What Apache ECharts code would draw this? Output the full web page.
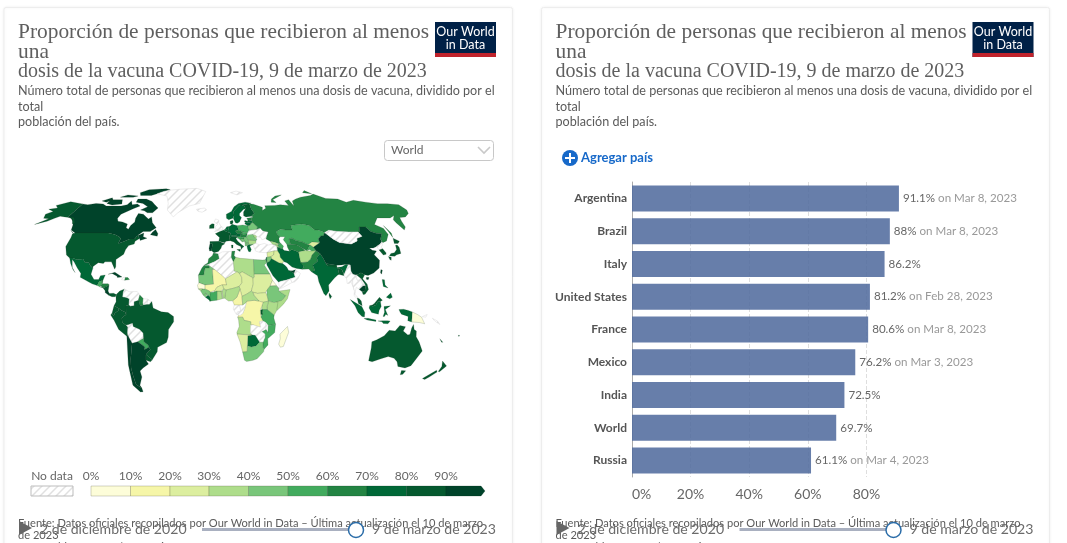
<!DOCTYPE html>
<html>
<head>
<meta charset="utf-8">
<style>html,body{margin:0;padding:0;background:#fff;overflow:hidden}#chart{width:1067px;height:543px}</style>
<script src="https://cdn.jsdelivr.net/npm/echarts@6/dist/echarts.min.js"></script>
</head>
<body>
<div id="chart"></div>
<script>
// Bar panel
const barCountries = ['Argentina', 'Brazil', 'Italy', 'United States', 'France', 'Mexico', 'India', 'World', 'Russia'];
const barValues = [91.1, 88, 86.2, 81.2, 80.6, 76.2, 72.5, 69.7, 61.1];
const barDates = ['Mar 8, 2023', 'Mar 8, 2023', '', 'Feb 28, 2023', 'Mar 8, 2023', 'Mar 3, 2023', '', '', 'Mar 4, 2023'];

// Colour scale
const binLabels = ['0%', '10%', '20%', '30%', '40%', '50%', '60%', '70%', '80%', '90%'];
const binColors = ['#fdfdd9', '#f6f6a8', '#dcee9f', '#aedd8b', '#79c67a', '#42ab5e', '#238443', '#006837', '#05592f', '#00432a'];

// Share of people with at least one dose, by region; countries left out have no data
const americasNames = ['Canada', 'United States', 'Mexico', 'Guatemala', 'Belize', 'Honduras', 'El Salvador', 'Nicaragua', 'Costa Rica', 'Panama', 'Cuba', 'Dominican Republic', 'Colombia', 'Guyana', 'Ecuador', 'Peru', 'Brazil', 'Paraguay', 'Chile', 'Argentina', 'Uruguay'];
const americasValues = [91, 81.2, 76.2, 50, 62, 65, 72, 88, 92, 80, 93, 66, 84, 65, 88, 86, 88, 55, 92, 91.1, 85];
const europeNames = ['Ireland', 'Portugal', 'Spain', 'France', 'Belgium', 'Netherlands', 'Germany', 'Denmark', 'Switzerland', 'Austria', 'Italy', 'Poland', 'Czechia', 'Slovakia', 'Hungary', 'Croatia', 'Bosnia', 'Serbia', 'Albania', 'North Macedonia', 'Greece', 'Bulgaria', 'Romania', 'Moldova', 'Belarus', 'Lithuania', 'Latvia', 'Estonia', 'Norway', 'Sweden', 'Finland', 'Russia'];
const europeValues = [82, 92, 87, 80.6, 79, 72, 78, 82, 70, 74, 86.2, 59, 65, 52, 64, 56, 45, 49, 47, 41, 75, 31, 42, 37, 45, 71, 70, 64, 78, 75, 82, 61.1];
const asiaNames = ['Georgia', 'Armenia', 'Azerbaijan', 'Syria', 'Iraq', 'Jordan', 'Israel', 'Saudi Arabia', 'United Arab Emirates', 'Iran', 'Kazakhstan', 'Uzbekistan', 'Turkmenistan', 'Kyrgyzstan', 'Tajikistan', 'Afghanistan', 'Pakistan', 'India', 'Nepal', 'Bangladesh', 'Sri Lanka', 'China', 'South Korea', 'Japan', 'Cambodia', 'Vietnam', 'Malaysia', 'Indonesia', 'Philippines', 'Papua New Guinea', 'Australia', 'New Zealand', 'New Caledonia', 'Fiji'];
const asiaValues = [36, 38, 52, 24, 22, 47, 72, 74, 96, 76, 55, 68, 66, 27, 55, 35, 68, 72.5, 80, 85, 80, 92, 87, 84, 93, 88, 86, 75, 72, 4, 86, 84, 80, 81];
const africaNames = ['Morocco', 'Western Sahara', 'Tunisia', 'Libya', 'Egypt', 'Mauritania', 'Mali', 'Niger', 'Chad', 'Sudan', 'South Sudan', 'Eritrea', 'Ethiopia', 'Somalia', 'Kenya', 'Uganda', 'Tanzania', 'Rwanda', 'Democratic Republic of Congo', 'Cameroon', 'Central African Republic', 'Nigeria', 'Benin', 'Togo', 'Ghana', 'Burkina Faso', "Cote d'Ivoire", 'Liberia', 'Sierra Leone', 'Guinea', 'Senegal', 'Guinea-Bissau', 'Angola', 'Mozambique', 'Botswana', 'Namibia', 'South Africa', 'Madagascar'];
const africaValues = [63, 63, 62, 33, 45, 45, 14, 22, 23, 22, 24, 1, 42, 38, 34, 36, 55, 80, 12, 13, 35, 33, 36, 27, 35, 25, 52, 72, 45, 47, 8, 32, 35, 55, 73, 23, 44, 8];

// Simplified country outlines as "lon,lat" rings, used to register the base map
const outlines = {
  'Canada': ['-141,69.6 -135,69 -128,70 -120,69.5 -115,68 -108,68 -100,68 -95,69 -94,72 -90,69 -85,69.5 -81,68 -86,66 -94,62 -94.5,59 -92.5,57 -88,56.5 -82.5,55 -82,52.5 -79.5,51.5 -79,54 -77,56.5 -78,59 -78,62.5 -73,62 -70,60.5 -66,58.5 -64,60 -61,56 -56,52.5 -60,50 -66,50 -70,47 -65,49 -64.5,46.5 -61,45.5 -66,44 -67,45.2 -69.5,47.4 -71,45 -75,45 -79,43.3 -83,42 -82.5,45.3 -84.5,46.5 -89,48 -95,49 -123,49 -128,51 -130,54.5 -133,57 -137,59 -141,60',
    '-80,73.5 -72,71.5 -67,69 -62,66.5 -65,63 -70,63 -74,64.5 -78,65 -73,67.5 -80,70 -88,71 -89,73.5',
    '-117,73 -105,73 -101,69.5 -110,68.7 -117,70', '-90,76.5 -78,76.5 -62,82 -68,83 -88,82 -94,79', '-125,72 -118,74.5 -115,73 -119,71',
    '-110,75 -96,75 -92,76 -105,77', '-59,47.7 -53,46.8 -53,48.5 -56,51.3 -58,49.5', '-128,50.7 -123.5,48.4 -125,49'],
  'United States': ['-124.7,48.4 -123,49 -95,49 -89,48 -84.5,46.5 -82.5,45.3 -83,42 -79,43.3 -75,45 -71,45 -69.5,47.4 -67,45.2 -70,43.5 -70,41.7 -74,40.6 -75.5,38 -76,35 -81,31.5 -80,26.8 -80.5,25.2 -82.5,28 -84,30 -89,30 -90,29 -94,29.5 -97.3,27 -97.2,25.9 -99.5,27.5 -101.5,29.8 -104,29.4 -106.5,31.8 -111,31.3 -114.8,32.5 -117.1,32.5 -120.5,34.5 -124,40 -124,46',
    '-141,69.6 -156.5,71.3 -166,68.5 -161,66.5 -168,65.6 -161,64 -165,62 -162,59 -157,58.7 -164,54.7 -156,57 -152,59 -149,60.5 -144,60 -139,59.5 -135,58.5 -131,55 -130,56 -135,59.5 -141,60'],
  'Mexico': ['-117.1,32.5 -114.8,32.5 -111,31.3 -106.5,31.8 -104,29.4 -101.5,29.8 -99.5,27.5 -97.2,25.9 -97.8,22 -95,18.5 -91.5,18.5 -90.5,21 -87,21.5 -88.2,18 -91,17.2 -92,14.6 -96,15.7 -105.5,20 -105.5,22.5 -109,26 -112.7,30 -114.7,31.5 -113,26.5 -110,23 -112,25 -115,29'],
  'Guatemala': ['-92,14.6 -91,17.2 -89.2,17.8 -88.3,15.8 -89.4,14.4 -90,13.8'],
  'Belize': ['-89.2,17.8 -88.2,18.4 -88.3,16'],
  'Honduras': ['-89.4,14.4 -88.3,15.8 -84,15.8 -83.2,15 -85,14 -87.5,13'],
  'El Salvador': ['-90,13.8 -89.4,14.4 -87.5,13.4 -88,13.2'],
  'Nicaragua': ['-87.5,13 -85,14 -83.2,15 -83.6,11 -85.7,11.1'],
  'Costa Rica': ['-85.7,11.1 -83.6,11 -82.6,9.5 -83,8.3 -85.7,10'],
  'Panama': ['-83,8.3 -82.6,9.5 -79.5,9.6 -77.4,8.7 -78,7.3 -80.5,7.3'],
  'Cuba': ['-84.9,21.9 -80,23.2 -74.2,20.2 -77.7,19.9 -78,20.7 -82,22.5'],
  'Haiti': ['-74.4,18.5 -72,18 -71.7,19.9 -73.4,19.9'],
  'Dominican Republic': ['-71.7,19.9 -72,18 -68.4,18.5 -69.8,19.8'],
  'Colombia': ['-77.4,8.7 -75,11 -71.5,12.4 -72.3,10 -72.5,7.3 -70,7 -67.5,6 -67.8,2 -70,1.5 -69.5,-4.2 -70.5,-2.8 -73.5,-1.5 -75.3,-0.1 -78.8,1.4 -77.3,4 -77.5,7'],
  'Venezuela': ['-72.3,10 -71.5,12.4 -68,10.6 -62,10.7 -60,8.5 -61,5 -60.7,5 -64,4 -64,1.5 -67,1.2 -67.8,2 -67.5,6 -70,7 -72.5,7.3'],
  'Guyana': ['-60,8.5 -57.2,6 -57.5,3.3 -57,1.9 -59.5,1.5 -60.7,5 -61,5'],
  'Suriname': ['-57.2,6 -54,5.8 -54.5,2.3 -57,1.9 -57.5,3.3'],
  'French Guiana': ['-54,5.8 -51.7,4.3 -52.8,2.3 -54.5,2.3'],
  'Ecuador': ['-80.3,-3.4 -78.8,1.4 -75.3,-0.1 -75.5,-1.6 -78.3,-3.4 -79,-5 -80,-4.3'],
  'Peru': ['-81.3,-4.5 -80.3,-3.4 -80,-4.3 -79,-5 -78.3,-3.4 -75.5,-1.6 -75.3,-0.1 -73.5,-1.5 -70.5,-2.8 -69.9,-4.3 -73.2,-6.5 -73,-9.5 -70.5,-11 -69,-12.5 -69.5,-16 -69.5,-17.5 -70.4,-18.3 -76,-14 -79,-8'],
  'Bolivia': ['-69,-10.9 -65.4,-9.8 -65,-12 -60.5,-13.8 -58,-16.3 -58,-19.7 -62.6,-22 -67,-22.9 -69,-19 -69.5,-17.5 -69.5,-16 -69,-12.5'],
  'Paraguay': ['-62.6,-22 -58,-19.7 -57.8,-22.1 -55,-24 -54.6,-25.6 -58.5,-27.2 -57.7,-25.3'],
  'Chile': ['-70.4,-18.3 -69.5,-17.5 -69,-19 -67,-22.9 -70,-33 -71.5,-39 -71.8,-44 -72,-50 -68.4,-52.3 -68.6,-54.9 -71,-55 -75,-50.5 -73.5,-42 -73,-37 -71.5,-30'],
  'Argentina': ['-67,-22.9 -62.6,-22 -57.7,-25.3 -58.5,-27.2 -54.6,-25.6 -53.7,-27 -57.6,-30.2 -58.4,-34 -57,-36.5 -62,-39 -65,-41 -65,-45 -69,-50.5 -68.4,-52.3 -72,-50 -71.8,-44 -71.5,-39 -70,-33'],
  'Uruguay': ['-58.4,-34 -57.6,-30.2 -53.4,-33.7 -55,-35'],
  'Brazil': ['-69.9,-4.3 -69.5,-4.2 -70,1.5 -67.8,2 -67,1.2 -64,1.5 -64,4 -60.7,5 -59.5,1.5 -57,1.9 -54.5,2.3 -52.8,2.3 -51,4.3 -50,0 -44,-2.5 -39,-3 -35,-5.5 -35,-9 -39,-14 -39.5,-19 -41,-22.5 -48,-25.5 -48.7,-28.5 -53.4,-33.7 -57.6,-30.2 -53.7,-27 -54.6,-25.6 -55,-24 -57.8,-22.1 -58,-19.7 -58,-16.3 -60.5,-13.8 -65,-12 -65.4,-9.8 -69,-10.9 -70.5,-11 -73,-9.5 -73.2,-6.5'],
  'Greenland': ['-73,78 -60,76 -54,70 -52,65 -44,60 -41,63 -32,68 -22,70 -20,75 -18,80 -30,83.5 -50,82.5 -62,81.5 -68,80'],
  'Iceland': ['-24,65.5 -22,64 -18,63.4 -14,65 -16,66.5 -21,66'],
  'United Kingdom': ['-5.5,50 1.3,51.2 1.7,52.7 0,53.5 -2,56 -2,57.7 -5,58.6 -6,56.5 -3,54.8 -4.8,53.3 -5,51.7 -3,51.4'],
  'Ireland': ['-10,52 -6,52.2 -6,55 -8,55.2 -10,54'],
  'Portugal': ['-9,37 -7.4,37.2 -6.9,41.9 -8.9,41.9 -9.5,38.8'],
  'Spain': ['-7.4,37.2 -5.5,36 -2,36.8 0,38.8 0.7,40.6 3.2,41.9 -1.8,43.4 -9,43.3 -8.9,41.9 -6.9,41.9'],
  'France': ['-1.8,43.4 3.2,42.5 4,43.5 7.5,43.8 6.8,46 8,49 6,49.5 4.2,50 2.5,51 -1.5,49.7 -4.8,48.5 -1.2,46'],
  'Belgium': ['2.5,51 4.2,50 6,49.5 6,50.8 3.5,51.4'],
  'Netherlands': ['3.5,51.4 6,50.8 7.1,53.3 5,53.2'],
  'Germany': ['6,49.5 8,49 7.6,47.6 13,47.5 13.8,48.7 12.2,50.3 15,51 14.2,53.9 9.8,54.8 8.6,54 7.1,53.3 6,50.8'],
  'Denmark': ['8.2,55 9.8,54.8 10.9,56.4 10.5,57.7 8.2,57'],
  'Switzerland': ['6.8,46 10.4,46.8 9.6,47.5 7.6,47.6'],
  'Austria': ['9.6,47.5 10.4,46.8 13.7,46.5 16.3,46.5 16.5,47.7 17,48.7 13.8,48.7 13,47.5'],
  'Italy': ['6.8,46 7.5,43.8 10.5,43 12.5,41.3 15.8,40 16,38 16.8,39 18.4,40 16,41.6 13.5,43.6 12.3,45.3 13.7,46.5 10.4,46.8', '12.5,38 15.5,38.2 15,36.7', '8.3,41 9.7,41 9.5,39 8.5,39'],
  'Poland': ['14.2,53.9 15,51 18.8,49.5 22.6,49.1 24,50.8 23.5,53.9 19,54.4'],
  'Czechia': ['12.2,50.3 13.8,48.7 17,48.7 18.8,49.5 15,51'],
  'Slovakia': ['17,48.7 18.8,47.8 22.1,48.4 22.6,49.1 18.8,49.5'],
  'Hungary': ['16.5,47.7 16.3,46.5 18.8,45.9 21,46.2 22.1,48.4 18.8,47.8 17,48.7'],
  'Croatia': ['13.7,46.5 16.3,46.5 18.8,45.9 19,45 15.8,45 17.5,43 14.5,45.2 13.6,45.5'],
  'Bosnia': ['15.8,45 19,45 19.2,43.5 17.5,43'],
  'Serbia': ['19,45 18.8,45.9 21,46.2 22.5,44.4 22.4,42.3 20.5,42.5 19.2,43.5'],
  'Albania': ['19.2,43.5 20.5,42.5 20.8,40.5 19.4,40.4 19.4,42'],
  'North Macedonia': ['20.5,42.5 22.4,42.3 22.8,41.3 20.8,41'],
  'Greece': ['20.8,40.5 22.8,41.3 26.2,41.5 23,40.3 24,38 23,36.5 21.7,36.8 21,38.5'],
  'Bulgaria': ['22.5,44.4 28.6,43.8 28,42 26.2,41.5 22.8,41.3 22.4,42.3'],
  'Romania': ['21,46.2 22.9,48 26.6,48.2 28.2,45.5 29.6,45 28.6,43.8 22.5,44.4'],
  'Moldova': ['26.6,48.2 29.1,47.5 30,46.4 28.2,45.5'],
  'Ukraine': ['22.1,48.4 22.9,48 26.6,48.2 29.1,47.5 30,46.4 33,46 33.5,44.4 36.5,45.3 38.2,47.1 40,49.6 35.5,50.4 33.8,52.3 30.8,51.4 24,50.8 22.6,49.1'],
  'Belarus': ['24,50.8 30.8,51.4 31.7,53 28.2,56.1 26.6,55.7 25.5,54.3 23.5,53.9'],
  'Lithuania': ['21,55.3 23.5,53.9 25.5,54.3 26.6,55.7 22,56.4'],
  'Latvia': ['21,56.4 22,56.4 26.6,55.7 28.2,56.1 27.4,57.5 24.3,57.9 24,57 21.5,57.5'],
  'Estonia': ['23.5,59 28,59.5 27.4,57.6 24.3,57.9'],
  'Norway': ['5,59 7,58 10.8,59 12.2,61 12,64 14,65.5 18,68.5 23,69 29,69.7 31,70.2 25,71 18,70 13,67.5 10,64 5,62'],
  'Sweden': ['11.2,59 12.8,56 14.3,55.5 16.5,56.5 18.8,59.5 17.2,61 17.5,62.5 22,65.5 24,66 23.5,67.8 20.5,69 18,68.5 14,65.5 12,64 12.2,61'],
  'Finland': ['21,60.8 23,60 28,60.5 31.5,62.7 29.5,66 29,69.7 23,69 20.5,69 23.5,67.8 24,66 21.5,63.5'],
  'Svalbard': ['11,79 18,77 25,79 18,80.5'],
  'Russia': ['28,59.5 30,60 28,60.5 31.5,62.7 29.5,66 29,69.7 33,69.4 41,67 40,64.7 44,66.3 44,68.3 54,68.5 60,69 68,68.5 67,72 72,73 73,68 75,72 80,73.5 87,75 100,76.5 105,77.7 113,74 125,73.5 130,71 140,72.5 150,71 160,69.8 170,69.8 180,69 180,65 177,62.5 170,60 164,59.5 162,57 160,53 156.7,51 155.7,56 156,58 161,61 155,59.3 143,59.3 135,54.7 140,52 140,48 135,43.7 131,42.5 130.6,43 131,45 135,48.5 130.5,48.8 127,50 125.5,53 120,53 117,49.6 113,49.6 108,49.6 98,50 92,50.8 87.5,49.2 83,51 80,51 77,54 71,55 61,54 61,51 55,51 51,51.5 47,50 47,48.5 49,46.5 47.7,45.5 47.5,43 48.5,41.8 46,42 43,43 40,43.5 37,45 38.2,47.1 40,49.6 35.5,50.4 33.8,52.3 30.8,51.4 31.7,53 28.2,56.1 27.4,57.6',
    '142,54 143.5,49 142,46 142,50', '52,71 57,70.7 55,73 68,77 60,76 54,73.5', '95,79 104,78 100,81'],
  'Turkey': ['26.2,41.5 28,42 31,41.2 35,42 38,41 41.5,41.5 43.7,40.7 44.7,37.2 42,37.2 36,36 32,36.1 30,36.3 27.3,37 26.3,39.5'],
  'Georgia': ['40,43.5 43,43 46,42 46.5,41.3 43.5,41.2 41.5,41.5'],
  'Armenia': ['43.5,41.2 45.5,41 46.5,39 44.8,39.7'],
  'Azerbaijan': ['46,42 48.5,41.8 50,40.3 48.9,38.4 46.5,39 45.5,41 46.5,41.3'],
  'Syria': ['36,36 42,37.2 41,34.5 38.8,33.4 36,33'],
  'Iraq': ['42,37.2 44.7,37.2 46,35 46,33 48.5,30 47.7,30 47,29 44.5,29.2 39,32 38.8,33.4 41,34.5'],
  'Jordan': ['35.5,33 36,33 38.8,33.4 39,32 37,30 35,29.5'],
  'Israel': ['34.3,31.3 35,29.5 35.5,33 35.1,33'],
  'Saudi Arabia': ['35,29.5 37,30 39,32 44.5,29.2 47,29 48.5,28 50,26.5 51,24.5 55,22.7 55.7,20 52,19 48.5,18 45,17.4 43,16.7 42.7,16.3 39,21 35,28'],
  'Yemen': ['43,16.7 45,17.4 48.5,18 52,19 53,16.6 45,12.9 43.4,12.7'],
  'Oman': ['52,19 55.7,20 55,22.7 56.3,24.9 59.8,22.5 57.7,19 55,17 53,16.6'],
  'United Arab Emirates': ['51.5,24.2 55,22.7 56.3,24.9 54,24.2'],
  'Iran': ['44.7,37.2 44.8,39.7 46.5,39 48.9,38.4 50,37.4 54,36.9 56,38 61,36.5 61,31.5 63,27 61.6,25.2 57.5,25.7 54,26.6 50.5,29.5 48.5,30 46,33 46,35'],
  'Kazakhstan': ['47,48.5 47,50 51,51.5 55,51 61,51 61,54 71,55 77,54 80,51 83,51 87.5,49.2 85,47 83,47 80,45 80,42.5 74,43 70,41.2 66,43 61,44 58.5,45.5 56,45 56,41.3 53,41.5 51,44.5 53,46.5 49,46.5'],
  'Uzbekistan': ['56,45 58.5,45.5 61,44 66,43 70,41.2 71.5,41 67.7,37.2 64.5,39 61,41 56,41.3'],
  'Turkmenistan': ['53,41.5 56,41.3 61,41 64.5,39 66.5,37.4 61,36.5 56,38 54,36.9 53,39.5'],
  'Kyrgyzstan': ['70,41.2 74,43 80,42.5 73.6,39.5 71.5,41'],
  'Tajikistan': ['67.7,37.2 71.5,41 73.6,39.5 75,37.3 71.5,37 70,38'],
  'Afghanistan': ['61,36.5 66.5,37.4 71.5,37 74.9,37.2 71,34.5 69.3,31.9 66.4,29.9 61,29.5 61,31.5'],
  'Pakistan': ['61,29.5 66.4,29.9 69.3,31.9 71,34.5 74.9,37.2 77.5,35.5 74,32.5 74.5,30.5 70,27.8 71,24.4 68,23.7 66.5,25.3 61.6,25.2 63,27'],
  'India': ['77.5,35.5 74,32.5 74.5,30.5 70,27.8 71,24.4 68,23.7 72.5,21 73,17 76,9.5 77.5,8 80,11 80,15 85,19.5 88,21.7 89,21.8 88.5,26 91.5,25 92.5,22 94.5,24.5 97,28 95.5,28.5 92,26.8 88,26.4 88,27.8 81,27.5 80.3,29 79,32.5'],
  'Nepal': ['80.3,29 88,27.8 88,26.4 81,27.5'],
  'Bangladesh': ['88.5,26 91.5,25 92.5,21 89,21.8'],
  'Sri Lanka': ['80,9.7 81.8,7.5 80.5,6 79.8,8'],
  'China': ['73.6,39.5 80,42.5 80,45 83,47 85,47 87.5,49.2 92,45 96,42.7 105,41.7 111,43.7 112,45.5 117,46.7 116,49.6 117,49.6 120,53 125.5,53 127,50 130.5,48.8 135,48.5 131,45 130.6,43 128,41.5 124.3,40 121,39 118,39 119.5,37.5 122.5,37 119.5,34.7 122,31 120,26 115,22.7 110.5,21.2 108,21.6 105.5,23 102,21.5 99,22 98,24 98.5,28 95.5,28.5 92,28 88,27.8 80.3,29 79,32.5 77.5,35.5 75,37.3',
    '109,20 111,19.8 110,18.3 108.7,18.7', '121,25 122,24.5 120.8,22 120.2,23'],
  'Mongolia': ['87.5,49.2 92,50.8 98,50 108,49.6 113,49.6 116,49.6 117,46.7 112,45.5 111,43.7 105,41.7 96,42.7 92,45'],
  'North Korea': ['124.3,40 128,41.5 130.6,43 129.7,41 127.5,39.5 128.3,38.6 125,37.8'],
  'South Korea': ['125,37.8 128.3,38.6 129.4,36 129,35 126.5,34.4'],
  'Japan': ['131,34 133,35.5 136,36 139,38 140,40.8 141.5,41 142,39.5 140.8,35.5 137,34.6 135,33.6 132,33.8', '140,42 141.7,45.4 145.3,43.5 143,42', '130,33.5 132,33 131,31 130.2,31.5'],
  'Myanmar': ['92.5,21 94.5,24.5 97,28 98.5,28 98,24 99,22 101,21 98.5,19 98,15 99,11 98,14 97,17 95.5,16 94,16 94,19'],
  'Thailand': ['98.5,19 101,21 102,18 105,18.5 105.5,14.3 102.5,12 100.5,13.5 99.5,11 99,9 100.5,7.2 102,6 100,6.5 98.3,8 98.8,11 98,15'],
  'Laos': ['101,21 102,21.5 105,19 107,16 107,14.5 105.5,14.3 105,18.5 102,18'],
  'Cambodia': ['102.5,12 105.5,14.3 107.5,14.5 106.5,11 104.5,10.5'],
  'Vietnam': ['102,21.5 105.5,23 108,21.6 106,19 108.8,15.5 109.3,12 106.5,9 105,8.7 104.5,10.5 106.5,11 107.5,14.5 107,16 105,19'],
  'Malaysia': ['100.5,6.5 102,6 103.4,4.5 104,1.4 101.3,3', '109.5,1.5 111.5,2 113,3 115,5 117,7 119,5 117.5,4.2 115.5,4 114,2 112,1.2'],
  'Indonesia': ['95.3,5.6 98,4 103.7,1 106,-3 105.8,-5.8 104,-5.5 101,-3 98.7,1.5', '105.5,-6.8 108.5,-6.7 114.5,-7.8 114.4,-8.7 108,-7.8',
    '109,0 109.5,1.5 112,1.2 114,2 115.5,4 117.5,4.2 118,1 116.5,-1.5 116,-4 111,-3 110,-1.5', '119.5,-5.5 120.5,-2.8 120,1 124.8,1.4 121,-1 123,-4.8 121.5,-4 120.5,-5.5',
    '131,-1 134.5,-0.8 138,-1.6 141,-2.6 141,-9.1 138,-8.3 138,-5.5 133,-4 132,-2.8', '116,-8.4 119,-8.3 123,-8.3 125,-8.5 123.5,-10.3 120,-10 119,-9'],
  'Philippines': ['120.5,18.5 122.2,18.3 122,15 124,13 120.6,14', '122,7 125.5,9.7 126.5,7 124.5,6'],
  'Papua New Guinea': ['141,-2.6 145,-4.3 148,-6 150.7,-10.3 147,-9.5 143,-9.2 141,-9.1'],
  'New Britain': ['148.5,-5.6 152,-4.2 151,-6'],
  'Solomon Islands': ['156,-6.7 160,-8.5 162,-10.7 158,-8.5'],
  'New Caledonia': ['164,-20 167,-22.3 166,-22.2'],
  'Fiji': ['177.5,-17.5 178.5,-18.2 177.3,-18.3'],
  'Australia': ['113.5,-22 114,-26 115,-34.3 118,-35 124,-33 129,-31.6 134,-32.7 137.5,-35 140,-38 146.3,-39 150,-37.5 153.5,-28 149,-22 146,-18.7 145.3,-15 143.5,-14 142.5,-10.7 141.5,-13 141,-17 139.5,-17.5 135.5,-15 136.8,-12.2 132.5,-11.3 129.5,-15 125,-14.5 122,-18 117,-20.7', '144.7,-40.7 148.3,-40.9 147.8,-43.2 146,-43.5'],
  'New Zealand': ['172.7,-34.5 178.3,-37.7 176,-41.5 174.8,-41.3 174.8,-38', '172.7,-40.5 174.2,-41.7 171,-45 169,-46.6 166.5,-46'],
  'Morocco': ['-5.9,35.8 -2,35.1 -1.2,32 -5,30 -8.7,28.7 -13,27.7 -10,29.5 -9.6,32 -6.8,34'],
  'Western Sahara': ['-13,27.7 -8.7,27.7 -8.7,26 -12,26 -13,21.3 -17,21.3 -14.5,26'],
  'Algeria': ['-2,35.1 1,36.5 8.6,36.9 8,33 9.5,30 10,24 12,23.5 3.3,19 1.2,20.8 -4.8,25 -8.7,27.3 -8.7,28.7 -5,30 -1.2,32'],
  'Tunisia': ['8.6,36.9 11,37 10.2,34 11.5,33 9.5,30 8,33'],
  'Libya': ['11.5,33 15,32.3 20,32 25,31.6 25,20 24,19.5 16,23.5 14,22.5 12,23.5 10,24 9.5,30'],
  'Egypt': ['25,31.6 32,31.2 34.3,31.3 34.9,29.5 33,28 36.9,22 25,22'],
  'Mauritania': ['-17,21.3 -13,21.3 -12,26 -8.7,26 -8.7,27.3 -4.8,25 -6.5,25 -5.5,15.5 -12,15 -16.5,16.5'],
  'Mali': ['-4.8,25 1.2,20.8 3.3,19 4.2,15 1,15 0,14.8 -3,13.5 -4.5,11.5 -8,10.2 -8.5,11 -12,12.4 -12,15 -5.5,15.5 -6.5,25'],
  'Niger': ['3.3,19 12,23.5 14,22.5 15.5,20 15.7,16.5 13.5,14 9,12.8 3.7,11.7 2,12.5 1,15 4.2,15'],
  'Chad': ['14,22.5 16,23.5 24,19.5 24,15.5 22.5,11 18.9,9 15.5,7.5 14,12.5 13.5,14 15.7,16.5 15.5,20'],
  'Sudan': ['24,19.5 25,20 25,22 36.9,22 38.5,18 36.5,14.3 34,11.5 33,10 27,9.5 23.5,10.3 22.5,11 24,15.5'],
  'South Sudan': ['23.5,10.3 27,9.5 33,10 34,8.5 35,4.5 31,3.7 28,4.5 24.5,8'],
  'Eritrea': ['36.5,14.3 38.5,18 43,12.7 41,14.5'],
  'Ethiopia': ['34,11.5 36.5,14.3 41,14.5 43,12.7 42.8,11 48,8 45,5 42,4 39,3.5 35,4.5 34,8.5'],
  'Somalia': ['41,-1.7 41,3.9 45,5 48,8 43,11 51.2,12 49,6 46,2.5 42,-1'],
  'Kenya': ['35,4.5 39,3.5 42,4 41,-1.7 39.2,-4.7 34,-1 34,1'],
  'Uganda': ['31,3.7 35,4.5 34,1 34,-1 30,-1 30,1'],
  'Tanzania': ['30,-1 34,-1 39.2,-4.7 39,-6.5 40.4,-10.5 35,-11.5 33,-9.5 31,-8.5 29.5,-6 30.5,-3'],
  'Rwanda': ['29,-1.3 30.5,-1.2 30.5,-4.3 29.2,-4.3'],
  'Democratic Republic of Congo': ['12.3,-6 13,-4.7 16,-3.5 17.6,0 18.5,3.6 19,4.5 24.5,5 28,4.5 31,3.7 30,1 29,-1.3 29.2,-4.3 29.5,-6 31,-8.5 28.5,-9 29.5,-12.5 26,-11.7 24,-11 22,-11 22,-9 17,-8 16,-6'],
  'Congo': ['11.2,-4 14,-4.8 16,-3.5 17.6,0 18.5,3.6 16,2 13.5,2.2 14.5,-2 12,-2.5'],
  'Gabon': ['9,-0.7 9.8,2 13.5,2.2 14.5,-2 12,-2.5 11.2,-4'],
  'Cameroon': ['8.6,4.7 9.8,2 16,2 15.5,7.5 14,12.5 13.5,11 11.7,7'],
  'Central African Republic': ['15.5,7.5 18.9,9 22.5,11 23.5,10.3 24.5,8 28,4.5 24.5,5 19,4.5 18.5,3.6 16,2'],
  'Nigeria': ['2.7,6.4 3.7,11.7 9,12.8 13.5,14 14,12.5 13.5,11 11.7,7 8.6,4.7 5.5,4.5'],
  'Benin': ['1.6,6.2 2.7,6.4 3.7,11.7 2,12.5 0.9,11'],
  'Togo': ['1,6 1.6,6.2 0.9,11 0,11'],
  'Ghana': ['-3,5.1 1,6 0,11 -3,11'],
  'Burkina Faso': ['-5.5,10.3 -3,11 0,11 2,12.5 1,15 0,14.8 -3,13.5 -4.5,11.5'],
  "Cote d'Ivoire": ['-8.5,4.4 -3,5.1 -3,11 -5.5,10.3 -8,10.2'],
  'Liberia': ['-11.5,7 -7.5,4.4 -8.3,7.5 -9.5,8.5'],
  'Sierra Leone': ['-13.3,8.5 -11.5,7 -10.3,8.7 -11,10'],
  'Guinea': ['-15,11 -13.3,8.5 -11,10 -10.3,8.7 -9.5,8.5 -8.3,7.5 -8,10.2 -8.5,11 -12,12.4 -13.7,12.5'],
  'Senegal': ['-17.5,14.7 -16.5,16.5 -12,15 -12,12.4 -16.8,12.4'],
  'Guinea-Bissau': ['-16.8,12.4 -13.7,12.5 -15,11'],
  'Angola': ['12.3,-6 16,-6 17,-8 22,-9 22,-11 24,-11 22,-13 22,-16 23.4,-17.6 12,-17 11.8,-16 13.5,-12 13,-8'],
  'Zambia': ['22,-11 24,-11 26,-11.7 29.5,-12.5 28.5,-9 31,-8.5 33,-9.5 33.5,-14 30.5,-15.5 25.5,-17.8 23.4,-17.6 22,-16 22,-13'],
  'Malawi': ['33,-9.5 35,-11.5 35,-16 33.5,-14'],
  'Mozambique': ['40.4,-10.5 35,-11.5 35,-16 33.5,-14 30.5,-15.5 32.8,-17 32.8,-19 31.5,-22.3 32,-26 32.8,-26.8 35.5,-24 35,-20 40,-16'],
  'Zimbabwe': ['25.5,-17.8 30.5,-15.5 32.8,-17 32.8,-19 31.5,-22.3 29,-22.2'],
  'Botswana': ['20,-18 23.4,-17.6 25.5,-17.8 29,-22.2 26.5,-24.7 23,-25.3 20,-24.7'],
  'Namibia': ['12,-17 23.4,-17.6 20,-18 20,-28.4 16.5,-28.6 14.5,-22.5'],
  'South Africa': ['16.5,-28.6 20,-28.4 20,-24.7 23,-25.3 26.5,-24.7 29,-22.2 31.5,-22.3 32,-26 32.8,-26.8 32.5,-28.5 28,-33 25,-34 20,-34.8 18.3,-34'],
  'Madagascar': ['49.3,-12 50.4,-15.8 47.2,-25 45,-25.5 43.5,-23.5 44.4,-20 44,-17']
};

// Robinson projection lookup, one row per 5 degrees of latitude
const robinsonLength = [1, .9986, .9954, .99, .9822, .973, .96, .9427, .9216, .8962, .8679, .835, .7986, .7597, .7186, .6732, .6213, .5722, .5322];
const robinsonDepth = [0, .062, .124, .186, .248, .31, .372, .434, .4958, .5571, .6176, .6769, .7346, .7903, .8435, .8936, .9394, .9761, 1];

function lookup(table, latAbs) {
  const i = Math.min(Math.floor(latAbs / 5), 17);
  return table[i] + (table[i + 1] - table[i]) * (latAbs / 5 - i);
}
const robinson = {
  project(c) {
    const lat = Math.max(-90, Math.min(90, c[1]));
    const a = Math.abs(lat);
    return [0.8487 * lookup(robinsonLength, a) * c[0] * Math.PI / 180,
      -1.3523 * lookup(robinsonDepth, a) * Math.sign(lat)];
  },
  unproject(p) {
    const d = Math.min(1, Math.abs(p[1]) / 1.3523);
    let i = 0;
    while (i < 17 && robinsonDepth[i + 1] < d) i++;
    const a = 5 * (i + (d - robinsonDepth[i]) / (robinsonDepth[i + 1] - robinsonDepth[i]));
    return [p[0] / (0.8487 * lookup(robinsonLength, a)) * 180 / Math.PI, p[1] > 0 ? -a : a];
  }
};

const rings = Object.keys(outlines).map(name => outlines[name].map(ring => ring.split(' ').map(p => p.split(',').map(Number))));
const worldGeo = {
  type: 'FeatureCollection',
  features: Object.keys(outlines).map((name, i) => ({
    type: 'Feature',
    properties: { name },
    geometry: { type: 'MultiPolygon', coordinates: rings[i].map(r => [r]) }
  }))
};
echarts.registerMap('world', worldGeo);

// The map's layout box is the extent of its projected outlines at this scale and origin
const MAP_SCALE = 91.7, MAP_X0 = 221, MAP_Y0 = 308;
const projected = rings.flat(2).map(robinson.project);
const xs = projected.map(p => p[0]), ys = projected.map(p => p[1]);
const mapBox = {
  left: MAP_X0 + Math.min(...xs) * MAP_SCALE,
  top: MAP_Y0 + Math.min(...ys) * MAP_SCALE,
  width: (Math.max(...xs) - Math.min(...xs)) * MAP_SCALE,
  height: (Math.max(...ys) - Math.min(...ys)) * MAP_SCALE
};

// Diagonal hatch for countries without data
const hatch = document.createElement('canvas');
hatch.width = hatch.height = 8;
(function () {
  const g = hatch.getContext('2d');
  g.fillStyle = '#fff';
  g.fillRect(0, 0, 8, 8);
  g.strokeStyle = '#e0e0e0';
  g.lineWidth = 1.5;
  [[-2, 2, 2, -2], [-2, 10, 10, -2], [6, 10, 10, 6]].forEach(l => {
    g.beginPath(); g.moveTo(l[0], l[1]); g.lineTo(l[2], l[3]); g.stroke();
  });
})();
const hatchFill = { image: hatch, repeat: 'repeat' };

const allNames = americasNames.concat(europeNames, asiaNames, africaNames);
const allValues = americasValues.concat(europeValues, asiaValues, africaValues);
const mapData = allNames.map((name, i) => ({
  name,
  value: allValues[i],
  itemStyle: { borderColor: 'rgba(30,60,35,0.35)', borderWidth: 0.5 }
}));

const TEXT = '#5b5b5b';
const LATO = 'Lato, sans-serif';
const elements = [];
function txt(x, y, text, size, color, opts) {
  elements.push(Object.assign({
    type: 'text', x, y, z: 5,
    style: Object.assign({ text, fill: color, font: size + 'px ' + LATO, textVerticalAlign: 'middle' }, opts || {})
  }));
}

// Everything shared by the two cards; dx is the horizontal offset of the card
function card(x0, x1, dx) {
  elements.push({ type: 'rect', z: -2, shape: { x: x0 + 0.5, y: 7.5, width: x1 - x0, height: 560, r: 2 },
    style: { fill: '#fff', stroke: '#ededed', lineWidth: 1, shadowBlur: 3, shadowColor: 'rgba(0,0,0,0.06)' } });
  const serif = size => ({ font: size + 'px "Liberation Serif", serif' });
  txt(18 + dx, 32, 'Proporción de personas que recibieron al menos', 21.4, '#5f5f5f', serif(21.4));
  txt(18 + dx, 52, 'una', 21.4, '#5f5f5f', serif(21.4));
  txt(18 + dx, 71.5, 'dosis de la vacuna COVID-19, 9 de marzo de 2023', 20, '#5f5f5f', serif(20));
  txt(18 + dx, 91, 'Número total de personas que recibieron al menos una dosis de vacuna, dividido por el', 12.6, TEXT);
  txt(18 + dx, 106.5, 'total', 12.6, TEXT);
  txt(18 + dx, 121.5, 'población del país.', 12.6, TEXT);
  elements.push({ type: 'rect', z: 5, shape: { x: 435 + dx, y: 22, width: 61, height: 35 }, style: { fill: '#002147' } });
  elements.push({ type: 'rect', z: 5, shape: { x: 435 + dx, y: 53, width: 61, height: 4 }, style: { fill: '#c0232c' } });
  txt(465.5 + dx, 31.5, 'Our World', 12.5, '#fff', { textAlign: 'center' });
  txt(465.5 + dx, 44.5, 'in Data', 12.5, '#fff', { textAlign: 'center' });
  txt(18 + dx, 523, 'Fuente: Datos oficiales recopilados por Our World in Data – Última actualización el 10 de marzo', 11.1, TEXT);
  txt(18 + dx, 535, 'de 2023', 11.1, TEXT);
  txt(18 + dx, 547, 'OurWorldInData.org/coronavirus • CC BY', 11.1, TEXT);
  // Timeline control
  elements.push({ type: 'polygon', z: 6, shape: { points: [[19 + dx, 521], [32 + dx, 528], [19 + dx, 535]] }, style: { fill: '#666' } });
  txt(40 + dx, 529, '2 de diciembre de 2020', 14.1, '#6b6b6b');
  elements.push({ type: 'rect', z: 6, shape: { x: 202 + dx, y: 528, width: 153, height: 3 }, style: { fill: '#a9b0c0' } });
  elements.push({ type: 'circle', z: 7, shape: { cx: 356 + dx, cy: 530, r: 7.5 }, style: { fill: '#fff', stroke: '#2a6ca8', lineWidth: 1.5 } });
  txt(372 + dx, 529, '9 de marzo de 2023', 14.1, '#6b6b6b');
}
card(3.5, 512, 0);
card(541, 1049, 537.5);

// Region selector above the map
elements.push({ type: 'rect', z: 5, shape: { x: 384.5, y: 140.5, width: 109, height: 20, r: 3 }, style: { fill: '#fff', stroke: '#c8c8c8' } });
txt(391, 150, 'World', 12, '#666');
elements.push({ type: 'polyline', z: 6, shape: { points: [[478, 147], [484, 153], [490, 147]] }, style: { fill: 'none', stroke: '#c9c9c9', lineWidth: 1.6 } });

// "Add country" control above the bars
elements.push({ type: 'circle', z: 5, shape: { cx: 570, cy: 158, r: 8 }, style: { fill: '#1769c9' } });
elements.push({ type: 'rect', z: 6, shape: { x: 565, y: 157, width: 10, height: 2 }, style: { fill: '#fff' } });
elements.push({ type: 'rect', z: 6, shape: { x: 569, y: 153, width: 2, height: 10 }, style: { fill: '#fff' } });
txt(581, 158, 'Agregar país', 13, '#1769c9', { font: 'bold 13px ' + LATO });

// Colour legend under the map
const legendTicks = [91, 130.5, 170, 209, 248.5, 288, 327.5, 367, 406.5, 446];
txt(52, 476, 'No data', 12, '#666', { textAlign: 'center' });
elements.push({ type: 'rect', z: 5, shape: { x: 31, y: 486, width: 42, height: 10 }, style: { fill: hatchFill, stroke: '#bdbdbd' } });
binLabels.forEach((label, i) => {
  txt(legendTicks[i], 476, label, 12, '#666', { textAlign: 'center' });
  const x = legendTicks[i];
  const next = i < 9 ? legendTicks[i + 1] : 481;
  const points = [[x, 486], [next, 486]];
  if (i === 9) points.push([485, 491]);
  points.push([next, 496], [x, 496]);
  elements.push({ type: 'polygon', z: 5, shape: { points }, style: { fill: binColors[i], stroke: i < 6 ? 'rgba(90,90,70,0.45)' : 'rgba(0,40,20,0.35)', lineWidth: 0.6 } });
});

const option = {
  backgroundColor: '#fff',
  animation: false,
  textStyle: { fontFamily: LATO },
  tooltip: { show: false },
  visualMap: {
    type: 'piecewise',
    show: false,
    seriesIndex: 0,
    pieces: binColors.map((color, i) => ({ gte: i * 10, lt: i === 9 ? 101 : (i + 1) * 10, color }))
  },
  grid: { left: 632, top: 182, width: 293, height: 295 },
  xAxis: {
    type: 'value', min: 0, max: 100, interval: 20,
    axisLine: { show: false },
    axisTick: { show: false },
    axisLabel: { color: '#666', fontSize: 14, fontFamily: LATO, margin: 10, alignMinLabel: 'left', showMaxLabel: false, formatter: '{value}%' },
    splitLine: { show: true, showMinLine: false, showMaxLine: false, lineStyle: { color: '#dedede', type: 'dashed' } }
  },
  yAxis: {
    type: 'category', data: barCountries, inverse: true,
    axisLine: { show: true, lineStyle: { color: '#aaa' } },
    axisTick: { show: false },
    axisLabel: { color: '#555', fontSize: 12, fontWeight: 'bold', fontFamily: LATO, margin: 5 }
  },
  series: [
    {
      type: 'map', map: 'world', projection: robinson,
      left: mapBox.left, top: mapBox.top, width: mapBox.width, height: mapBox.height,
      roam: false, silent: true, selectedMode: false,
      showLegendSymbol: false,
      label: { show: false },
      emphasis: { disabled: true },
      itemStyle: { areaColor: hatchFill, borderColor: '#dadada', borderWidth: 0.5 },
      data: mapData
    },
    {
      type: 'bar', barWidth: 26,
      data: barValues,
      itemStyle: { color: 'rgba(82,108,158,0.88)' },
      silent: true,
      label: {
        show: true, position: 'right', distance: 4,
        fontFamily: LATO, fontSize: 11.6,
        formatter: p => '{v|' + p.value + '%}' + (barDates[p.dataIndex] ? '{d| on ' + barDates[p.dataIndex] + '}' : ''),
        rich: {
          v: { color: '#666', fontSize: 11.6, fontFamily: LATO },
          d: { color: '#999', fontSize: 11.6, fontFamily: LATO }
        }
      }
    }
  ],
  graphic: { elements }
};
echarts.init(document.getElementById('chart')).setOption(option);
</script>
</body>
</html>
